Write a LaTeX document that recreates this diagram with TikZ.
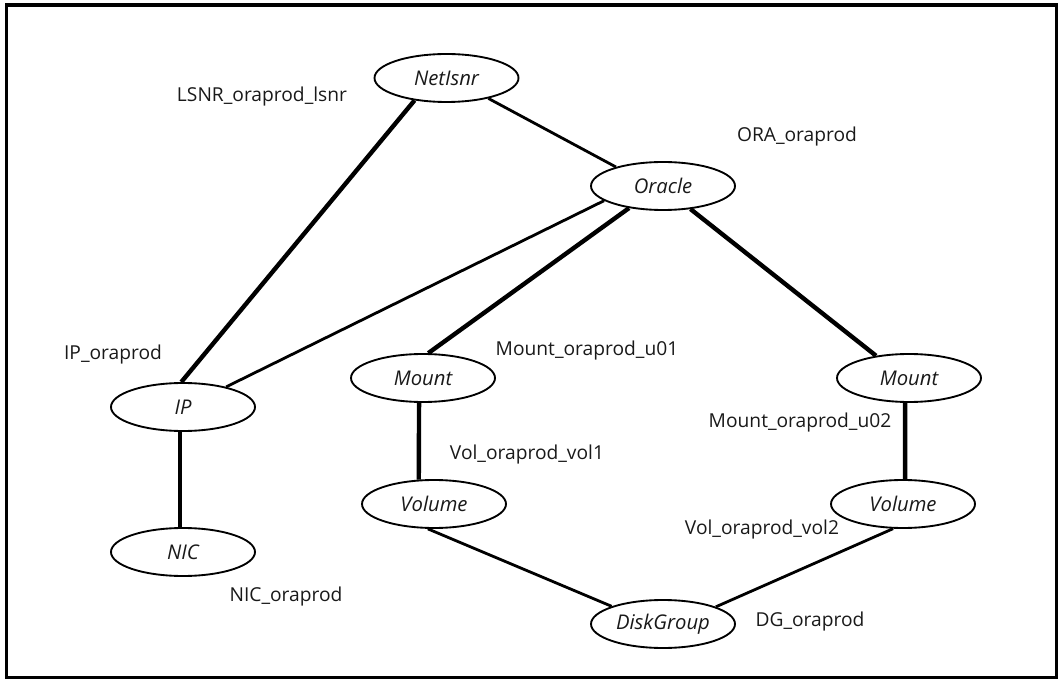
\documentclass[tikz,border=0pt]{standalone}
\usepackage{fontspec}
\setmainfont{Open Sans}
\usetikzlibrary{shapes.geometric}
\tikzset{
  res/.style={ellipse, draw, line width=1.4pt, minimum width=108pt, minimum height=36pt, inner sep=0pt, font=\fontsize{15.2pt}{17pt}\selectfont\itshape, text=black!90},
  lbl/.style={font=\fontsize{14.4pt}{16pt}\selectfont, inner sep=0pt, text=black!90},
  thick link/.style={line width=3.3pt},
  thin link/.style={line width=2.1pt},
}
\begin{document}
\begin{tikzpicture}[x=0.75pt,y=-0.75pt]
\useasboundingbox (0,0) rectangle (1059,680);
\draw[line width=2.4pt] (6.5,5) rectangle (1056.5,677.5);
% resources
\node[res] (net) at (446.5,78) {NetIsnr};
\node[res] (ora) at (663,186) {Oracle};
\node[res] (ip) at (183,407) {IP};
\node[res] (nic) at (183,552) {NIC};
\node[res] (ml) at (423,378) {Mount};
\node[res] (vl) at (434,504) {Volume};
\node[res] (mr) at (909,378) {Mount};
\node[res] (vr) at (903,504) {Volume};
\node[res] (dg) at (663,624) {DiskGroup};
% labels
\node[lbl] (l1) at (262,97) {LSNR\_oraprod\_lsnr};
\node[lbl] (l2) at (797,137) {ORA\_oraprod};
\node[lbl] (l3) at (113,355) {IP\_oraprod};
\node[lbl] (l4) at (587,351) {Mount\_oraprod\_u01};
\node[lbl] (l5) at (800,423) {Mount\_oraprod\_u02};
\node[lbl] (l6) at (527,455) {Vol\_oraprod\_vol1};
\node[lbl] (l7) at (762,530) {Vol\_oraprod\_vol2};
\node[lbl] (l8) at (286,597) {NIC\_oraprod};
\node[lbl] (l9) at (810,622) {DG\_oraprod};
% links
\draw[thick link] (net.215) -- (ip.94);
\draw[thin link] (net.-26) -- (ora.158);
\draw[thin link] (ora.194) -- (ip.25);
\draw[thick link] (ora.213) -- (ml.78);
\draw[thick link] (ora.-40) -- (mr.146);
\draw[thick link] (ml.-99) -- (vl.122);
\draw[thick link] (mr.-99) -- (vr.85);
\draw[thick link] (ip.-97) -- (nic.97);
\draw[thin link] (vl.-104) -- (dg.161);
\draw[thin link] (vr.-112) -- (dg.18);
\end{tikzpicture}
\end{document}
